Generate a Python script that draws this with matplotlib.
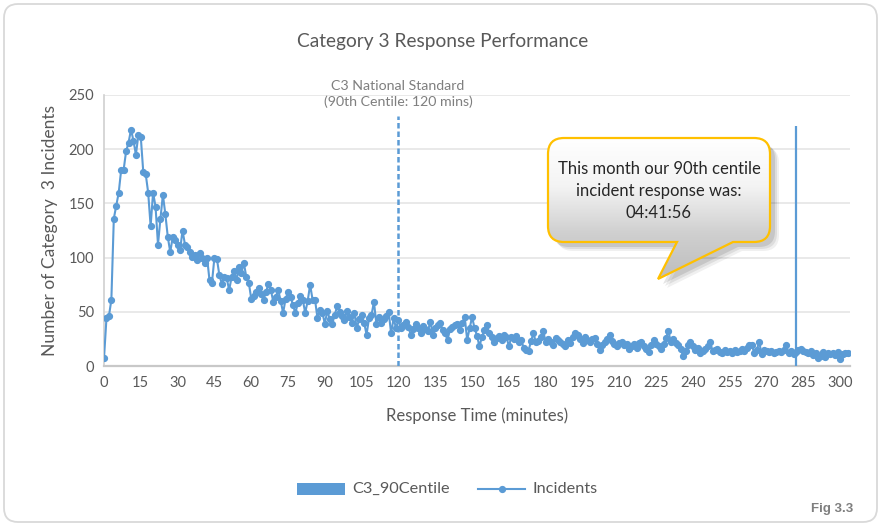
import numpy as np
import matplotlib
matplotlib.use('Agg')
import matplotlib.pyplot as plt
from matplotlib.path import Path
from matplotlib.patches import PathPatch, FancyBboxPatch, Rectangle
from matplotlib.colors import LinearSegmentedColormap
from matplotlib.lines import Line2D

plt.rcParams['font.family'] = ['Lato', 'DejaVu Sans']

# incidents per response minute (0 .. 303)
incidents = [
    7, 44, 46, 61, 136, 148, 160, 181, 181, 198,
    206, 218, 208, 195, 213, 211, 179, 177, 160, 129,
    160, 147, 112, 136, 158, 140, 119, 105, 119,
    116, 112, 107, 125, 112, 110, 105, 101, 102, 98,
    104, 100, 95, 100, 79, 77, 100, 99, 84, 76,
    82, 81, 70, 82, 88, 79, 91, 86, 95, 82, 77, 62,
    65, 68, 72, 66, 61, 68, 76, 70, 59, 64,
    70, 60, 49, 62, 68, 64, 56, 49, 58, 65,
    61, 49, 60, 75, 61, 61, 44, 52, 49, 39,
    51, 43, 39, 47, 55, 50, 46, 42, 51, 45,
    40, 49, 35, 43, 47, 40, 29, 44, 47, 59,
    39, 45, 40, 43, 46, 50, 30, 44, 35, 42,
    35, 38, 41, 36, 29, 34, 39, 35, 30, 37,
    34, 32, 41, 29, 35, 38, 40, 33, 30, 24,
    34, 36, 38, 39, 33, 40, 45, 24, 35, 45,
    35, 28, 18, 27, 33, 38, 30, 27, 22, 26,
    28, 24, 29, 27, 18, 27, 25, 28, 22, 24,
    17, 15, 14, 23, 30, 22, 23, 27, 32, 22,
    25, 22, 19, 26, 24, 22, 20, 18, 24, 21,
    27, 30, 29, 25, 21, 27, 24, 22, 25, 26,
    20, 15, 19, 22, 25, 29, 23, 20, 18, 21,
    22, 19, 20, 16, 18, 20, 17, 21, 22, 18,
    16, 13, 19, 24, 20, 18, 16, 20, 26, 32,
    22, 25, 21, 19, 16, 9, 14, 19, 22, 18,
    15, 17, 12, 14, 16, 18, 22, 14, 15, 16,
    13, 12, 15, 13, 14, 12, 15, 13, 14, 16,
    14, 17, 19, 19, 12, 15, 22, 11, 15, 14,
    13, 14, 12, 13, 14, 13, 15, 19, 12, 14,
    11, 13, 15, 16, 14, 13, 12, 14, 10, 12,
    7, 9, 13, 8, 12, 11, 12, 10, 13, 6,
    11, 12, 12,
]
minutes = list(range(len(incidents)))

standard_minute = 120
standard_top = 231
centile_minute = 4 * 60 + 41 + 56 / 60
centile_top = 221

x_ticks = list(range(0, 301, 15))
y_ticks = [0, 50, 100, 150, 200, 250]

blue = '#5B9BD5'
grey_text = '#595959'

W, H = 882, 527
fig = plt.figure(figsize=(W / 100, H / 100), dpi=100)
ax = fig.add_axes([104 / W, 1 - 366 / H, 746 / W, 271 / H])
ax.set_facecolor('none')

ax.plot(minutes, incidents, color=blue, lw=1.5, marker='o', ms=4.2, zorder=3)
ax.vlines(standard_minute, 0, standard_top, colors=blue, lw=1.8,
          linestyles=(0, (2.2, 1.2)), zorder=4)
ax.vlines(centile_minute, 0, centile_top, colors=blue, lw=1.6, zorder=4)

ax.set_xlim(0, 304)
ax.set_ylim(0, 250)
ax.set_xticks(x_ticks)
ax.set_yticks(y_ticks)
ax.tick_params(length=0, labelsize=10.5, colors=grey_text, pad=7)
ax.grid(axis='y', color='#E3E3E3', lw=1.1)
ax.set_axisbelow(True)
for s in ['top', 'right']:
    ax.spines[s].set_visible(False)
ax.spines['bottom'].set_color('#C8C8C8')
ax.spines['bottom'].set_linewidth(1.6)
ax.spines['left'].set_color('#D0D0D0')
ax.spines['left'].set_linewidth(1.2)

ax.set_xlabel('Response Time (minutes)', fontsize=12, color=grey_text, labelpad=13)
ax.set_ylabel('Number of Category  3 Incidents', fontsize=12.5, color=grey_text, labelpad=8)

fig.text(443 / W, 1 - 42 / H, 'Category 3 Response Performance', ha='center', va='center',
         fontsize=13.8, color=grey_text)
fig.text(398 / W, 1 - 94 / H, 'C3 National Standard\n(90th Centile: 120 mins)', ha='center',
         va='center', fontsize=10.2, color='#7F7F7F', linespacing=1.3)

# overlay in pixel coordinates
ov = fig.add_axes([0, 0, 1, 1], zorder=10)
ov.set_xlim(0, W)
ov.set_ylim(H, 0)
ov.axis('off')

frame = FancyBboxPatch((4, 4), W - 9, H - 9, boxstyle='round,pad=0,rounding_size=14',
                       fc='none', ec='#D9D9D9', lw=1.3)
ov.add_patch(frame)


def callout(x0, y0, x1, y1, r, tb0, tb1, tip, dx=0, dy=0):
    v = [(x0 + r, y0), (x1 - r, y0), (x1, y0), (x1, y0 + r), (x1, y1 - r), (x1, y1),
         (x1 - r, y1), (tb1, y1), tip, (tb0, y1), (x0 + r, y1), (x0, y1), (x0, y1 - r),
         (x0, y0 + r), (x0, y0), (x0 + r, y0), (x0 + r, y0)]
    c = [Path.MOVETO, Path.LINETO, Path.CURVE3, Path.CURVE3, Path.LINETO, Path.CURVE3,
         Path.CURVE3, Path.LINETO, Path.LINETO, Path.LINETO, Path.LINETO, Path.CURVE3,
         Path.CURVE3, Path.LINETO, Path.CURVE3, Path.CURVE3, Path.CLOSEPOLY]
    return Path([(x + dx, y + dy) for x, y in v], c)


box = (548, 138, 770, 242, 16, 677, 733, (658, 279))
for k, a in [(9, 0.06), (7, 0.08), (5, 0.1)]:
    ov.add_patch(PathPatch(callout(*box, dx=k, dy=k), fc='black', ec='none', alpha=a))
bubble = PathPatch(callout(*box), fc='none', ec='#FFC000', lw=1.6, zorder=3)
ov.add_patch(bubble)
grad = np.linspace(0, 1, 200).reshape(-1, 1)
cmap = LinearSegmentedColormap.from_list('g', ['#FFFFFF', '#F4F4F4', '#D0D0D0', '#BDBDBD'])
img = ov.imshow(grad, extent=[548, 770, 280, 138], aspect='auto', cmap=cmap, zorder=2)
img.set_clip_path(bubble)
ov.set_xlim(0, W)
ov.set_ylim(H, 0)
ov.text(659, 191, 'This month our 90th centile\nincident response was:\n04:41:56', ha='center',
        va='center', fontsize=12, color='#262626', linespacing=1.45, zorder=4)

# legend
ov.add_patch(Rectangle((297, 483), 48, 12, fc=blue, ec='none'))
ov.text(352, 489, 'C3_90Centile', va='center', fontsize=11.7, color=grey_text)
ov.add_line(Line2D([478, 525], [489, 489], color=blue, lw=1.5))
ov.plot([501.5], [489], marker='o', ms=4.2, color=blue)
ov.text(533, 489, 'Incidents', va='center', fontsize=11.7, color=grey_text)

ov.text(832, 509, 'Fig 3.3', ha='center', va='center', fontsize=9.5, fontweight='bold',
        color='#7F7F7F', family='Liberation Sans')

fig.savefig('out.png', dpi=100)
